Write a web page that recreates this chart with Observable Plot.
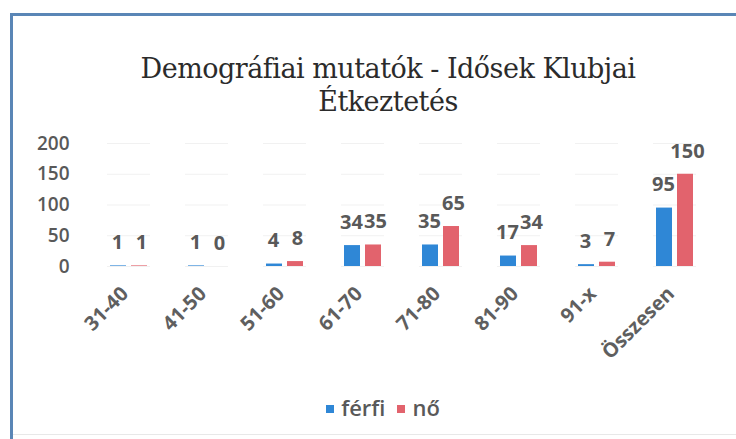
<!DOCTYPE html>
<html>
<head>
<meta charset="utf-8">
<script src="https://cdn.jsdelivr.net/npm/d3@7"></script>
<script src="https://cdn.jsdelivr.net/npm/@observablehq/plot@0.6"></script>
<style>
  html, body { margin: 0; padding: 0; background: #fff; overflow: hidden; }
  #wrap { position: relative; width: 736px; height: 439px; overflow: hidden; background: #fff; }
  #topline { position: absolute; left: 10px; top: 13px; width: 726px; height: 3px; background: #5a86b6; }
  #leftline { position: absolute; left: 10px; top: 13px; width: 3px; height: 426px; background: #5a86b6; }
  #bottomline { position: absolute; left: 13px; top: 434px; width: 723px; height: 1px; background: #e8e8e8; }
  #title { position: absolute; top: 52px; left: 0; width: 776px; text-align: center;
           font-family: "DejaVu Serif"; font-size: 27px; line-height: 33px; color: #2b2b2b; letter-spacing: -0.5px; }
  #chart { position: absolute; top: 120px; left: 0; }
  #legend { position: absolute; top: 392px; left: 0; width: 766px; text-align: center;
            font-family: "Open Sans"; font-size: 22px; font-weight: 600; color: #595959; }
  #legend span.sw { display: inline-block; width: 8px; height: 8px; margin-right: 7px; vertical-align: 3px; }
  #legend span.it { margin: 0 6px; }
</style>
</head>
<body>
<div id="wrap">
  <div id="topline"></div>
  <div id="leftline"></div>
  <div id="bottomline"></div>
  <div id="title">Demográfiai mutatók - Idősek Klubjai<br>Étkeztetés</div>
  <div id="chart"></div>
  <div id="legend"></div>
</div>
<script>
const categories = ["31-40", "41-50", "51-60", "61-70", "71-80", "81-90", "91-x", "Összesen"];
const ferfi = [1, 1, 4, 34, 35, 17, 3, 95];
const no = [1, 0, 8, 35, 65, 34, 7, 150];
const series = ["férfi", "nő"];
const colors = ["#2f87d6", "#e2636d"];
const yTicks = [0, 50, 100, 150, 200];

const data = categories.flatMap((c, i) => [
  {cat: c, sex: series[0], v: ferfi[i]},
  {cat: c, sex: series[1], v: no[i]}
]);

const labelStyle = {fx: "cat", x: "sex", y: "v", text: d => String(d.v), dy: -23,
                    fontWeight: 700, fontSize: 20, fill: "#595959"};

const chart = Plot.plot({
  width: 736,
  height: 250,
  marginTop: 23,
  marginBottom: 104,
  marginLeft: 87,
  marginRight: 21,
  style: {fontFamily: "Open Sans", fontSize: "19px", color: "#595959", background: "transparent", fontWeight: 600},
  fx: {domain: categories, paddingInner: 0.452, paddingOuter: 0.226, label: null, axis: null},
  x: {domain: series, paddingInner: 0.233, paddingOuter: 0.116, axis: null},
  y: {domain: [0, 200], label: null, axis: null},
  color: {domain: series, range: colors},
  marks: [
    Plot.ruleY(yTicks, {stroke: "#f1f1f1"}),
    Plot.axisY(yTicks, {tickSize: 0, tickPadding: 38, fontSize: 19, fontWeight: 600, fill: "#595959", label: null}),
    Plot.axisFx({anchor: "bottom", tickRotate: -45, tickSize: 0, tickPadding: 24, dx: -4,
                 fontSize: 20, fontWeight: 700, fill: "#5f5f5f", label: null}),
    Plot.barY(data, {fx: "cat", x: "sex", y: "v", fill: "sex"}),
    Plot.text(data.filter(d => d.sex === series[0]), {...labelStyle, dx: -1}),
    Plot.text(data.filter(d => d.sex === series[1]), {...labelStyle, dx: 2})
  ]
});
document.getElementById("chart").appendChild(chart);

const legend = document.getElementById("legend");
series.forEach((s, i) => {
  const it = document.createElement("span");
  it.className = "it";
  const sw = document.createElement("span");
  sw.className = "sw";
  sw.style.background = colors[i];
  it.appendChild(sw);
  it.appendChild(document.createTextNode(s));
  legend.appendChild(it);
});
</script>
</body>
</html>
